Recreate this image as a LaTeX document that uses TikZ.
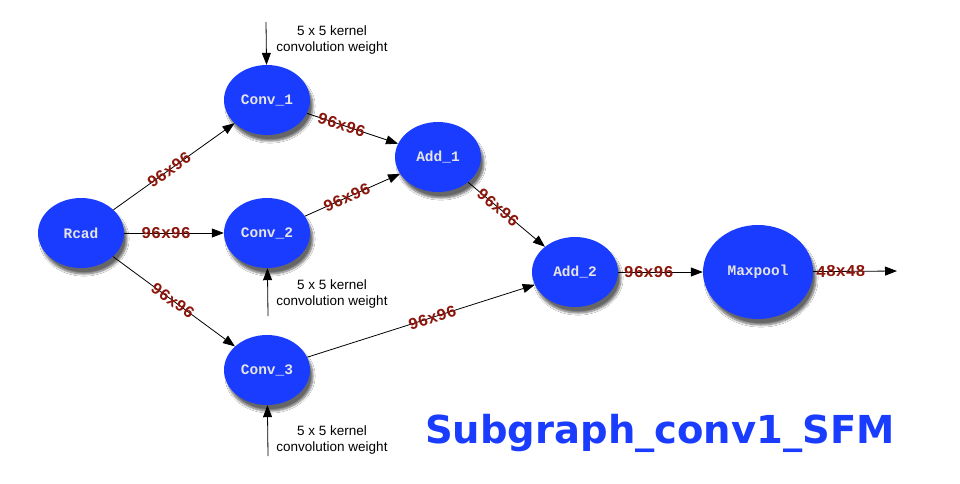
\documentclass[tikz,border=0pt]{standalone}
\usepackage{fontspec}
\setmainfont{Liberation Sans}
\newfontfamily\monobold{Liberation Mono Bold}
\newfontfamily\titlefont{DejaVu Sans Bold}
\usetikzlibrary{arrows.meta,shapes.geometric,shadows.blur}
\definecolor{nodeblue}{RGB}{26,60,255}
\definecolor{labred}{RGB}{140,22,12}
\definecolor{nodetext}{RGB}{228,228,228}
\begin{document}
\begin{tikzpicture}[x=1pt,y=-1pt,
  op/.style={ellipse, fill=nodeblue, minimum width=86pt, minimum height=70pt, inner sep=0pt,
    font=\monobold\fontsize{14.5}{15}\selectfont, text=nodetext,
    blur shadow={shadow xshift=3pt, shadow yshift=-6pt, shadow blur steps=8, shadow opacity=60}},
  big/.style={op, minimum width=110pt, minimum height=94pt},
  conn/.style={draw=black, line width=0.8pt, -{Triangle[length=12pt,width=9pt]}},
  dim/.style={sloped, font=\monobold\fontsize{16.5}{16}\selectfont, text=labred, inner sep=0pt},
  note/.style={font=\fontsize{13.5}{16}\selectfont, align=center, text=black}
]
\useasboundingbox (0,0) rectangle (960,483);
\fill[white] (0,0) rectangle (960,483);

\node[op] (read) at (81,233) {Rcad};
\node[op] (c1) at (267,100) {Conv\_1};
\node[op] (c2) at (267,233) {Conv\_2};
\node[op] (c3) at (267,370) {Conv\_3};
\node[op] (a1) at (438,157) {Add\_1};
\node[op] (a2) at (575,272) {Add\_2};
\node[big] (mp) at (758,272) {Maxpool};

\coordinate (w1) at (266,22);
\coordinate (w2) at (268,316);
\coordinate (w3) at (268,456);
\coordinate (out) at (897,271);

\draw[conn] (read) -- node[dim, pos=0.46] {96x96} (c1);
\draw[conn] (read) -- node[dim, pos=0.42] {96x96} (c2);
\draw[conn] (read) -- node[dim, pos=0.49] {96x96} (c3);
\draw[conn] (c1) -- node[dim, pos=0.38] {96x96} (a1);
\draw[conn] (c2) -- node[dim, pos=0.44] {96x96} (a1);
\draw[conn] (c3) -- node[dim, pos=0.55] {96x96} (a2);
\draw[conn] (a1) -- node[dim, pos=0.39] {96x96} (a2);
\draw[conn] (a2) -- node[dim, pos=0.36] {96x96} (mp);
\draw[conn] (mp) -- node[dim, pos=0.33] {48x48} (out);

\draw[conn] (w1) -- (c1);
\draw[conn] (w2) -- (c2);
\draw[conn] (w3) -- (c3);

\node[note] (n1) at (332,40) {5 x 5 kernel\\convolution weight};
\node[note] (n2) at (332,294) {5 x 5 kernel\\convolution weight};
\node[note] (n3) at (332,440) {5 x 5 kernel\\convolution weight};

\node[font=\titlefont\fontsize{38.5}{40}\selectfont, text=nodeblue, anchor=base west, inner sep=0pt] (title) at (425,443) {Subgraph\_conv1\_SFM};
\end{tikzpicture}
\end{document}
